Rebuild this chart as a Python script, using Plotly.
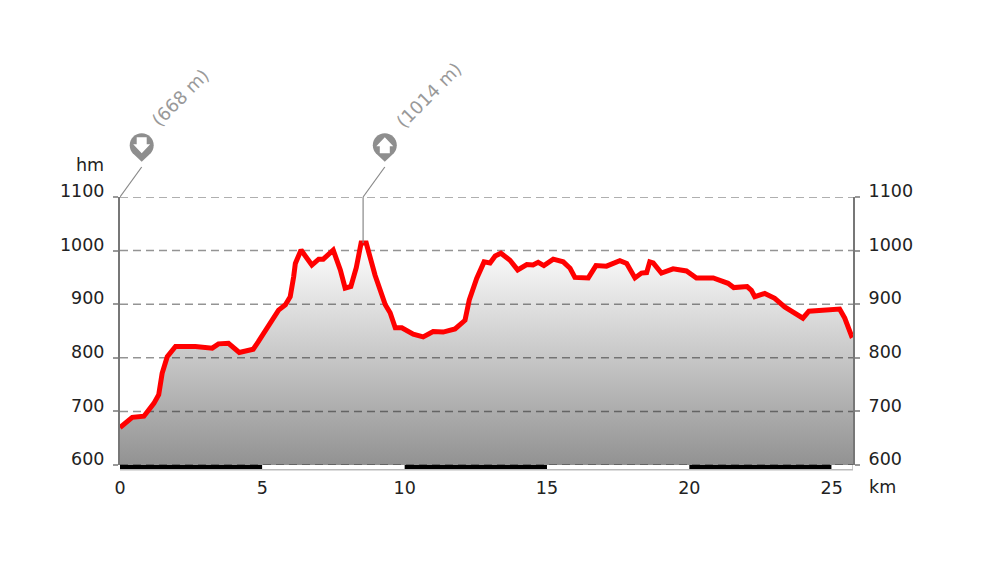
import plotly.graph_objects as go

km_values = [0, 0.43, 0.84, 1.19, 1.36, 1.48, 1.66, 1.95, 2.65, 3.24, 3.46, 3.81, 4.19, 4.68, 4.86, 5.11, 5.34, 5.57, 5.81, 5.98, 6.1, 6.16,
             6.36, 6.74, 6.98, 7.14, 7.49, 7.74, 7.91, 8.11, 8.3, 8.47, 8.65, 8.96, 9.32, 9.49, 9.67, 9.9, 10.3, 10.65, 11.0, 11.35,
             11.77, 12.12, 12.27, 12.53, 12.79, 13.0, 13.18, 13.38, 13.7, 13.97, 14.29, 14.51, 14.69, 14.89, 15.22, 15.57, 15.81, 15.98, 16.45, 16.72,
             17.09, 17.56, 17.8, 18.09, 18.32, 18.5, 18.61, 18.73, 19.02, 19.43, 19.9, 20.25, 20.84, 21.36, 21.56, 22.03, 22.18, 22.3, 22.65, 23.0,
             23.35, 23.99, 24.2, 24.69, 25.28, 25.46, 25.69, 25.75]
elevation_values = [670, 689, 691, 715, 731, 771, 802, 821, 821, 818, 826, 827, 810, 816, 830, 852, 870, 889, 899, 914, 951, 976,
                    1001, 973, 984, 984, 1001, 964, 930, 933, 968, 1014, 1014, 954, 899, 884, 856, 856, 844, 839, 849, 848,
                    854, 870, 908, 948, 979, 977, 990, 995, 982, 964, 974, 973, 978, 972, 984, 979, 967, 950, 949, 972,
                    971, 981, 976, 949, 958, 959, 979, 977, 958, 966, 962, 949, 949, 939, 931, 933, 926, 914, 920, 911,
                    895, 874, 887, 889, 891, 874, 842, 844]

y_ticks = [600, 700, 800, 900, 1000, 1100]
x_ticks = [0, 5, 10, 15, 20, 25]
km_max = 25.75
bar_edges = [0, 5, 10, 15, 20, 25, 25.75]
min_km, min_label = 0, "(668 m)"
max_km, max_elev, max_label = 8.54, 1014, "(1014 m)"

font = "DejaVu Sans"
grey = "#777777"
pin_grey = "#8e8e8e"


def pin_paths(s):
    # pixel offsets from the top of the plot, s=1 up arrow, s=-1 down arrow
    def p(x, y):
        return f"{x + 21.7:.1f},{y + 51.7:.1f}"
    pin = ("M" + p(-12, 0) + " C" + p(-12, 6.6) + " " + p(-6.6, 12) + " " + p(0, 12)
           + " C" + p(6.6, 12) + " " + p(12, 6.6) + " " + p(12, 0)
           + " C" + p(12, -3.5) + " " + p(10.5, -6.5) + " " + p(9, -8)
           + " L" + p(0, -16.5) + " L" + p(-9, -8)
           + " C" + p(-10.5, -6.5) + " " + p(-12, -3.5) + " " + p(-12, 0) + " Z")
    arrow = ("M" + p(0, s * 8) + " L" + p(8.5, s * -1) + " L" + p(5, s * -1) + " L" + p(5, s * -8)
             + " L" + p(-5, s * -8) + " L" + p(-5, s * -1) + " L" + p(-8.5, s * -1) + " Z")
    return pin, arrow


fig = go.Figure()

fig.add_trace(go.Scatter(
    x=km_values, y=elevation_values, mode="lines", line=dict(width=0), hoverinfo="skip",
    fill="tozeroy",
    fillgradient=dict(type="vertical", start=600, stop=1014,
                      colorscale=[[0, "#929292"], [1, "#ffffff"]]),
))

for level in y_ticks:
    fig.add_trace(go.Scatter(
        x=[0, km_max], y=[level, level], mode="lines", hoverinfo="skip", cliponaxis=False,
        line=dict(color="rgba(0,0,0,0.42)", width=1.5, dash="8px,5px"),
    ))

fig.add_trace(go.Scatter(
    x=km_values, y=elevation_values, mode="lines",
    line=dict(color="#ff0000", width=5), cliponaxis=False,
))

# only there so the right axis gets drawn
fig.add_trace(go.Scatter(x=[0], y=[600], yaxis="y2", mode="lines", hoverinfo="skip"))

shapes = []
shapes.append(dict(type="line", xref="x", yref="paper", x0=0, x1=km_max, y0=-0.018, y1=-0.018,
                   line=dict(color="#bbbbbb", width=1.5)))
for i in range(len(bar_edges) - 1):
    shapes.append(dict(type="rect", xref="x", yref="paper", x0=bar_edges[i], x1=bar_edges[i + 1], y0=-0.015, y1=0,
                       fillcolor="#000000" if i % 2 == 0 else "#ffffff", line=dict(width=0)))
shapes.append(dict(type="line", xref="x", yref="paper", x0=km_max, x1=km_max, y0=-0.018, y1=0,
                   line=dict(color="#bbbbbb", width=1.5)))

# pin markers and their leader lines
for km, s in [(min_km, -1), (max_km, 1)]:
    pin, arrow = pin_paths(s)
    for path, colour in [(pin, pin_grey), (arrow, "#ffffff")]:
        shapes.append(dict(type="path", path=path, xref="x", yref="paper", xsizemode="pixel", ysizemode="pixel",
                           xanchor=km, yanchor=1, fillcolor=colour, line=dict(width=0)))
    shapes.append(dict(type="line", xref="x", yref="paper", xsizemode="pixel", ysizemode="pixel",
                       xanchor=km, yanchor=1, x0=0, y0=0, x1=21.7, y1=30, line=dict(color="#888888", width=1.2)))
shapes.append(dict(type="line", x0=max_km, x1=max_km, y0=1100, y1=max_elev, line=dict(color="#888888", width=1.2)))

annotations = [
    dict(text="hm", xref="x", yref="paper", x=0, y=1, xshift=-14, yshift=32, xanchor="right", yanchor="middle",
         showarrow=False, font=dict(family=font, size=17.5, color="#222222")),
    dict(text="km", xref="x", yref="paper", x=km_max, y=0, xshift=14, yshift=-22, xanchor="left", yanchor="middle",
         showarrow=False, font=dict(family=font, size=17.5, color="#222222")),
    dict(text=min_label, xref="x", yref="paper", x=min_km, y=1, xshift=60, yshift=100, textangle=-45,
         xanchor="center", yanchor="middle",
         showarrow=False, font=dict(family=font, size=18, color="#999999")),
    dict(text=max_label, xref="x", yref="paper", x=max_km, y=1, xshift=65, yshift=102, textangle=-45,
         xanchor="center", yanchor="middle",
         showarrow=False, font=dict(family=font, size=18, color="#999999")),
]

layout_y = dict(range=[600, 1100], tickvals=y_ticks, showgrid=False, zeroline=False,
                showline=True, linecolor=grey, linewidth=2,
                ticks="outside", ticklen=5, tickcolor="#999999", tickwidth=1.5,
                ticklabelstandoff=5, ticklabelshift=-6,
                tickfont=dict(family=font, size=17.5, color="#222222"))

fig.update_layout(
    width=1000, height=584,
    margin=dict(l=119.5, r=146.5, t=197, b=119, pad=0),
    plot_bgcolor="#ffffff", paper_bgcolor="#ffffff",
    showlegend=False,
    xaxis=dict(range=[0, km_max], tickvals=x_ticks, showgrid=False, zeroline=False, ticks="",
               ticklabelstandoff=10, tickfont=dict(family=font, size=17.5, color="#222222")),
    yaxis=dict(side="left", **layout_y),
    yaxis2=dict(side="right", overlaying="y", **layout_y),
    shapes=shapes,
    annotations=annotations,
)

fig.write_html("out.html", post_script="document.body.style.margin='0';", config={"displayModeBar": False})
